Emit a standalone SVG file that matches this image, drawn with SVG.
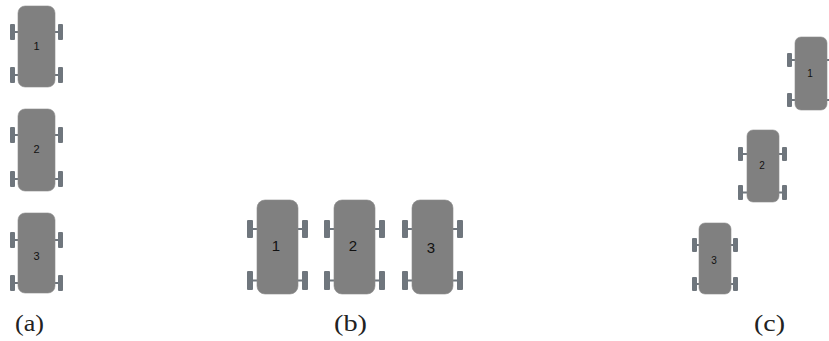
<svg xmlns="http://www.w3.org/2000/svg" width="829" height="341" viewBox="0 0 829 341">
<style>
.body{fill:#808080;stroke:#8c8c8c;stroke-width:0.6}
.wheel{fill:#6f767d}
.axle{fill:#6f767d}
.num{font-family:"Liberation Sans",Arial,sans-serif;fill:#111;text-anchor:middle;dominant-baseline:central}
.cap{font-family:"Liberation Serif","Times New Roman",serif;font-size:24px;fill:#222;text-anchor:middle}
</style>
<rect width="829" height="341" fill="#fff"/>

<!-- (a) column -->
<g id="a1">
<rect class="wheel" x="10" y="24" width="5" height="16" rx="1"/>
<rect class="wheel" x="10" y="67" width="5" height="16" rx="1"/>
<rect class="wheel" x="58" y="24" width="5" height="16" rx="1"/>
<rect class="wheel" x="58" y="67" width="5" height="16" rx="1"/>
<rect class="axle" x="15" y="31" width="3" height="2"/>
<rect class="axle" x="15" y="74" width="3" height="2"/>
<rect class="axle" x="55" y="31" width="3" height="2"/>
<rect class="axle" x="55" y="74" width="3" height="2"/>
<rect class="body" x="18" y="6" width="37" height="81" rx="7"/>
<text class="num" x="36.5" y="46" font-size="11">1</text>
</g>
<g id="a2">
<rect class="wheel" x="10" y="127" width="5" height="16" rx="1"/>
<rect class="wheel" x="10" y="171" width="5" height="16" rx="1"/>
<rect class="wheel" x="58" y="127" width="5" height="16" rx="1"/>
<rect class="wheel" x="58" y="171" width="5" height="16" rx="1"/>
<rect class="axle" x="15" y="134" width="3" height="2"/>
<rect class="axle" x="15" y="178" width="3" height="2"/>
<rect class="axle" x="55" y="134" width="3" height="2"/>
<rect class="axle" x="55" y="178" width="3" height="2"/>
<rect class="body" x="18" y="109" width="37" height="82" rx="7"/>
<text class="num" x="36.5" y="149" font-size="11">2</text>
</g>
<g id="a3">
<rect class="wheel" x="10" y="232" width="5" height="16" rx="1"/>
<rect class="wheel" x="10" y="275" width="5" height="16" rx="1"/>
<rect class="wheel" x="58" y="232" width="5" height="16" rx="1"/>
<rect class="wheel" x="58" y="275" width="5" height="16" rx="1"/>
<rect class="axle" x="15" y="239" width="3" height="2"/>
<rect class="axle" x="15" y="282" width="3" height="2"/>
<rect class="axle" x="55" y="239" width="3" height="2"/>
<rect class="axle" x="55" y="282" width="3" height="2"/>
<rect class="body" x="18" y="213" width="37" height="80" rx="7"/>
<text class="num" x="36.5" y="256" font-size="11">3</text>
</g>

<!-- (b) row -->
<g id="b1">
<rect class="wheel" x="247" y="220" width="6" height="18" rx="1"/>
<rect class="wheel" x="247" y="271" width="6" height="19" rx="1"/>
<rect class="wheel" x="302" y="220" width="6" height="18" rx="1"/>
<rect class="wheel" x="302" y="271" width="6" height="19" rx="1"/>
<rect class="axle" x="253" y="228" width="4" height="2"/>
<rect class="axle" x="253" y="279.5" width="4" height="2"/>
<rect class="axle" x="298" y="228" width="4" height="2"/>
<rect class="axle" x="298" y="279.5" width="4" height="2"/>
<rect class="body" x="257" y="200" width="41" height="94" rx="8"/>
<text class="num" x="276" y="245" font-size="15">1</text>
</g>
<g id="b2">
<rect class="wheel" x="324" y="220" width="6" height="18" rx="1"/>
<rect class="wheel" x="324" y="271" width="6" height="19" rx="1"/>
<rect class="wheel" x="379" y="220" width="6" height="18" rx="1"/>
<rect class="wheel" x="379" y="271" width="6" height="19" rx="1"/>
<rect class="axle" x="330" y="228" width="4" height="2"/>
<rect class="axle" x="330" y="279.5" width="4" height="2"/>
<rect class="axle" x="375" y="228" width="4" height="2"/>
<rect class="axle" x="375" y="279.5" width="4" height="2"/>
<rect class="body" x="334" y="200" width="41" height="94" rx="8"/>
<text class="num" x="353" y="245" font-size="15">2</text>
</g>
<g id="b3">
<rect class="wheel" x="402" y="220" width="6" height="18" rx="1"/>
<rect class="wheel" x="402" y="271" width="6" height="19" rx="1"/>
<rect class="wheel" x="457" y="220" width="6" height="18" rx="1"/>
<rect class="wheel" x="457" y="271" width="6" height="19" rx="1"/>
<rect class="axle" x="408" y="228" width="4" height="2"/>
<rect class="axle" x="408" y="279.5" width="4" height="2"/>
<rect class="axle" x="453" y="228" width="4" height="2"/>
<rect class="axle" x="453" y="279.5" width="4" height="2"/>
<rect class="body" x="412" y="200" width="41" height="94" rx="8"/>
<text class="num" x="431" y="247" font-size="15">3</text>
</g>

<!-- (c) diagonal -->
<g id="c1">
<rect class="wheel" x="787" y="53" width="5" height="14" rx="1"/>
<rect class="wheel" x="787" y="93" width="5" height="14" rx="1"/>
<rect class="wheel" x="830" y="53" width="5" height="14" rx="1"/>
<rect class="wheel" x="830" y="93" width="5" height="14" rx="1"/>
<rect class="axle" x="792" y="59" width="3" height="2"/>
<rect class="axle" x="792" y="99" width="3" height="2"/>
<rect class="axle" x="827" y="59" width="3" height="2"/>
<rect class="axle" x="827" y="99" width="3" height="2"/>
<rect class="body" x="795" y="37" width="32" height="73" rx="6"/>
<text class="num" x="810" y="73" font-size="10">1</text>
</g>
<g id="c2">
<rect class="wheel" x="738" y="147" width="5" height="14" rx="1"/>
<rect class="wheel" x="738" y="185" width="5" height="15" rx="1"/>
<rect class="wheel" x="782" y="147" width="5" height="14" rx="1"/>
<rect class="wheel" x="782" y="185" width="5" height="15" rx="1"/>
<rect class="axle" x="743" y="153" width="4" height="2"/>
<rect class="axle" x="743" y="191.5" width="4" height="2"/>
<rect class="axle" x="779" y="153" width="3" height="2"/>
<rect class="axle" x="779" y="191.5" width="3" height="2"/>
<rect class="body" x="747" y="130" width="32" height="72" rx="6"/>
<text class="num" x="762" y="165" font-size="10">2</text>
</g>
<g id="c3">
<rect class="wheel" x="692" y="238" width="5" height="14" rx="1"/>
<rect class="wheel" x="692" y="277" width="5" height="14" rx="1"/>
<rect class="wheel" x="733" y="238" width="5" height="14" rx="1"/>
<rect class="wheel" x="733" y="277" width="5" height="14" rx="1"/>
<rect class="axle" x="697" y="244" width="2" height="2"/>
<rect class="axle" x="697" y="283" width="2" height="2"/>
<rect class="axle" x="731" y="244" width="2" height="2"/>
<rect class="axle" x="731" y="283" width="2" height="2"/>
<rect class="body" x="699" y="223" width="32" height="71" rx="6"/>
<text class="num" x="714" y="260" font-size="10">3</text>
</g>

<g id="captions">
<text class="cap" x="29.5" y="330.5" textLength="29" lengthAdjust="spacingAndGlyphs">(a)</text>
<text class="cap" x="350.5" y="330.5" textLength="33" lengthAdjust="spacingAndGlyphs">(b)</text>
<text class="cap" x="769.5" y="330.5" textLength="31" lengthAdjust="spacingAndGlyphs">(c)</text>
</g>
</svg>
